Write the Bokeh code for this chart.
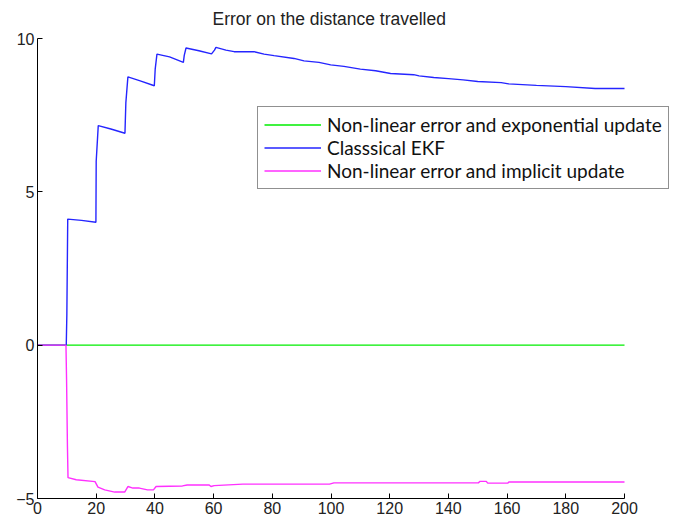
from bokeh.plotting import figure
from bokeh.models import Range1d, FixedTicker
from bokeh.embed import file_html
from bokeh.resources import INLINE

# ---- data ----
green_x = [0, 200]
green_y = [0, 0]

blue_x = [0, 9.8, 10.0, 10.3, 15.0, 19.9, 20.0, 20.7, 25.0, 29.8, 30.1, 30.8, 35.0, 39.8,
          40.1, 40.7, 45.0, 49.7, 50.0, 50.6, 55.0, 59.3, 60.3, 60.8, 64.2, 67.0, 73.8,
          77.2, 80.6, 87.4, 90.8, 95.9, 99.9, 104.4, 110.0, 115.2, 120.3, 128.2, 130.0,
          135.0, 140.0, 145.0, 150.0, 158.0, 160.5, 170.0, 180.0, 190.0, 200.0]
blue_y = [0, 0, 1.0, 4.11, 4.07, 4.01, 6.0, 7.16, 7.05, 6.91, 7.9, 8.75, 8.62, 8.46,
          9.0, 9.49, 9.4, 9.22, 9.45, 9.69, 9.6, 9.5, 9.62, 9.71, 9.62, 9.57, 9.57,
          9.49, 9.44, 9.35, 9.27, 9.22, 9.14, 9.09, 9.0, 8.95, 8.86, 8.82, 8.78,
          8.73, 8.69, 8.65, 8.6, 8.56, 8.52, 8.47, 8.43, 8.37, 8.37]

magenta_x = [0, 9.7, 9.9, 10.2, 10.4, 13.2, 19.6, 20.6, 22.9, 26.3, 29.7, 30.8, 32.5,
             34.7, 37.5, 39.5, 40.4, 49.4, 51.0, 58.5, 59.1, 60.2, 70.0, 99.5, 101.0,
             150.2, 150.8, 152.9, 153.4, 160.2, 160.6, 200.0]
magenta_y = [0, 0, -1.1, -3.3, -4.32, -4.39, -4.45, -4.63, -4.72, -4.79, -4.79, -4.61,
             -4.66, -4.66, -4.72, -4.72, -4.61, -4.59, -4.56, -4.56, -4.61, -4.58, -4.53,
             -4.53, -4.49, -4.49, -4.44, -4.44, -4.5, -4.5, -4.46, -4.46]

labels = ["Non-linear error and exponential update", "Classsical EKF",
          "Non-linear error and implicit update"]
x_ticks = [0, 20, 40, 60, 80, 100, 120, 140, 160, 180, 200]
y_ticks = [-5, 0, 5, 10]

W, H = 676, 522
left, top, bottom = 37, 37, 24
frame_w = W - left
x_end = 200 * frame_w / 587.0   # axis (0..200) spans 587 px; frame continues to the right edge

p = figure(width=W, height=H, output_backend="svg", toolbar_location=None,
           x_range=Range1d(0, x_end), y_range=Range1d(-5, 10),
           title="Error on the distance travelled",
           min_border_left=left, min_border_right=0, min_border_top=top,
           min_border_bottom=bottom)

p.title.align = "left"
p.title.offset = 175
p.title.text_font = "Liberation Sans"
p.title.text_font_size = "17.5px"
p.title.text_font_style = "normal"
p.title.text_color = "#222222"
p.title.standoff = 16
p.title.vertical_align = "top"

p.line(green_x, green_y, line_color="#00ee00", line_width=1.4, legend_label=labels[0])
p.line(blue_x, blue_y, line_color="#2525ff", line_width=1.4, legend_label=labels[1])
p.line(magenta_x, magenta_y, line_color="#ff30ff", line_width=1.4, legend_label=labels[2])

p.grid.visible = False
p.outline_line_color = None
p.background_fill_color = "white"
p.border_fill_color = "white"

for ax in (p.xaxis[0], p.yaxis[0]):
    ax.axis_line_color = "black"
    ax.major_tick_line_color = "black"
    ax.major_tick_in = 5
    ax.major_tick_out = 0
    ax.minor_tick_line_color = None
    ax.major_label_text_font = "Liberation Sans"
    ax.major_label_text_font_size = "16px"
    ax.major_label_text_color = "#222222"
    ax.major_label_standoff = 3

p.xaxis[0].ticker = FixedTicker(ticks=x_ticks)
p.xaxis[0].bounds = (0, 200)
p.yaxis[0].ticker = FixedTicker(ticks=y_ticks)

lg = p.legend[0]
lg.location = (220, 309)
lg.border_line_color = "#222222"
lg.border_line_width = 1
lg.background_fill_alpha = 1
lg.label_text_font = "Lato"
lg.label_text_font_size = "19px"
lg.label_text_color = "#111111"
lg.glyph_width = 57
lg.glyph_height = 21
lg.label_height = 21
lg.label_standoff = 6
lg.spacing = 0
lg.padding = 6
lg.margin = 0

open("out.html", "w").write(file_html(p, INLINE))
